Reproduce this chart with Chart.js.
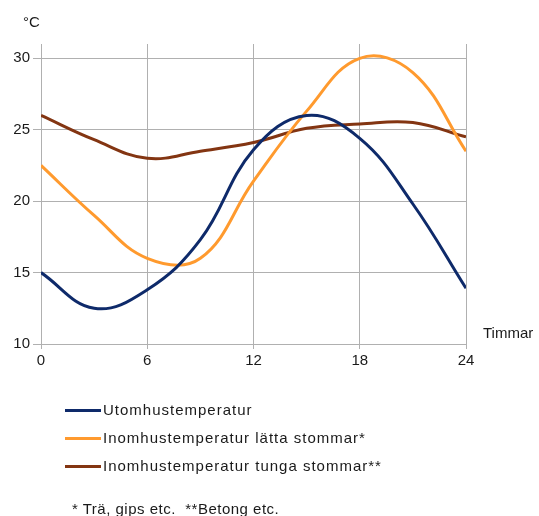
<!DOCTYPE html>
<html>
<head>
<meta charset="utf-8">
<script src="https://cdn.jsdelivr.net/npm/chart.js@4.4.0/dist/chart.umd.min.js"></script>
<style>
  body { margin: 0; background: #fff; }
  #wrap { position: relative; width: 539px; height: 516px; overflow: hidden; font-family: "Liberation Sans", Arial, sans-serif; color: #1a1a1a; }
  #wrap canvas { position: absolute; left: 0; top: 0; }
  .txt { position: absolute; font-size: 15px; white-space: nowrap; }
  .leg { position: absolute; left: 65px; font-size: 15px; letter-spacing: 1px; white-space: nowrap; line-height: 18px; }
  .leg span { display: inline-block; width: 36px; height: 3px; vertical-align: middle; margin-right: 2px; position: relative; top: -1px; }
</style>
</head>
<body>
<div id="wrap">
  <canvas id="myChart" width="539" height="516"></canvas>
  <div class="txt" style="left:23px; top:13px;">°C</div>
  <div class="txt" style="left:483px; top:324px;">Timmar</div>
  <div id="legend"></div>
  <div class="txt" style="left:72px; top:500px; letter-spacing:0.5px;">* Trä, gips etc.&nbsp; **Betong etc.</div>
</div>
<script>
const timmar = [0, 3, 6, 9, 12, 15, 18, 21, 24];
const utomhus = [15, 12.5, 13.8, 17.3, 23.6, 26, 24.4, 19.8, 13.9];
const lattaStommar = [22.5, 19.0, 16.0, 16.0, 21.4, 26.3, 30.0, 29.0, 23.5];
const tungaStommar = [26, 24.3, 23.0, 23.5, 24.1, 25.1, 25.4, 25.5, 24.5];
const yTicks = [10, 15, 20, 25, 30];

const serier = [
  { namn: "Utomhustemperatur", data: utomhus, farg: "#0e2a6a" },
  { namn: "Inomhustemperatur lätta stommar*", data: lattaStommar, farg: "#ff9a2e" },
  { namn: "Inomhustemperatur tunga stommar**", data: tungaStommar, farg: "#833512" },
];

const gridFarg = "#b0b0b0";
const tickFont = { family: "'Liberation Sans', Arial, sans-serif", size: 15 };

const datasets = serier.map((s) => {
  return {
    label: s.namn,
    data: timmar.map((t, i) => ({ x: t, y: s.data[i] })),
    borderColor: s.farg,
    borderWidth: 3,
    pointRadius: 0,
    tension: 0.4,
    fill: false,
  };
});

new Chart(document.getElementById("myChart"), {
  type: "line",
  data: { datasets },
  options: {
    responsive: false,
    animation: false,
    layout: { padding: { top: 44, right: 73, bottom: 142, left: 0 } },
    plugins: { legend: { display: false }, tooltip: { enabled: false } },
    scales: {
      x: {
        type: "linear",
        min: 0,
        max: 24,
        afterFit: (scale) => { scale.height = 30; },
        ticks: { stepSize: 6, color: "#1a1a1a", font: tickFont, padding: 3 },
        grid: { color: gridFarg, tickLength: 5 },
        border: { color: gridFarg },
      },
      y: {
        min: 10,
        max: 31,
        afterFit: (scale) => { scale.width = 41; },
        afterBuildTicks: (scale) => {
          scale.ticks = yTicks.map((v) => ({ value: v }));
        },
        ticks: { color: "#1a1a1a", font: tickFont, padding: 3 },
        grid: { color: gridFarg, tickLength: 8 },
        border: { color: gridFarg },
      },
    },
  },
});

const legend = document.getElementById("legend");
serier.forEach((s, i) => {
  const rad = document.createElement("div");
  rad.className = "leg";
  rad.style.top = (401 + i * 28) + "px";
  rad.innerHTML = `<span style="background:${s.farg}"></span>${s.namn}`;
  legend.append(rad);
});
</script>
</body>
</html>
